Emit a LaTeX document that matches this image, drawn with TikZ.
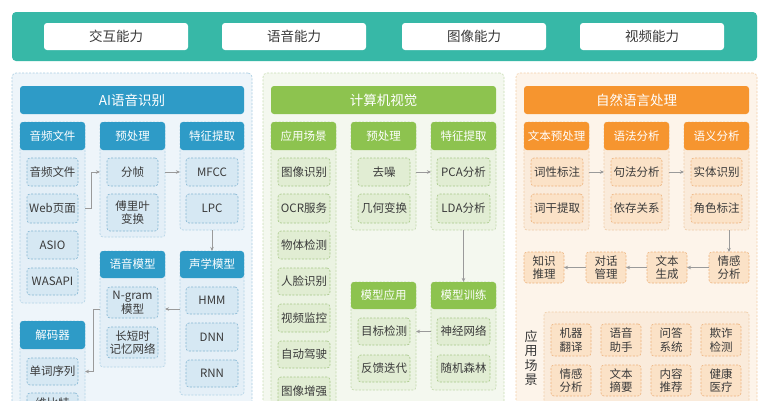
\documentclass[tikz,border=0pt]{standalone}
\usepackage{fontspec}
\setmainfont{Noto Sans CJK SC}
\usetikzlibrary{arrows.meta}
\definecolor{tealbar}{HTML}{37B8A7}
\definecolor{txt}{HTML}{3A3A3A}
\definecolor{bhd}{HTML}{2E9BC7}
\definecolor{bpan}{HTML}{EEF5FA}
\definecolor{bpanb}{HTML}{A9CDE2}
\definecolor{bcol}{HTML}{E4EFF7}
\definecolor{bcolb}{HTML}{B3D3E6}
\definecolor{bit}{HTML}{D6E8F3}
\definecolor{bitb}{HTML}{84B6D2}
\definecolor{ghd}{HTML}{8DC34F}
\definecolor{gpan}{HTML}{F4F8EF}
\definecolor{gpanb}{HTML}{C8DDB3}
\definecolor{gcol}{HTML}{EBF3E2}
\definecolor{gcolb}{HTML}{C3D9AC}
\definecolor{git}{HTML}{E1EDD3}
\definecolor{gitb}{HTML}{A7C888}
\definecolor{ohd}{HTML}{F6952F}
\definecolor{opan}{HTML}{FDF4EA}
\definecolor{opanb}{HTML}{F3CFA8}
\definecolor{ocol}{HTML}{FAEBDB}
\definecolor{ocolb}{HTML}{EFCDA8}
\definecolor{oit}{HTML}{FBE2C7}
\definecolor{oitb}{HTML}{EDB27C}
\definecolor{arrc}{HTML}{9A9A9A}
\newcommand\bx[7]{\node[#1, minimum width={(#5)-(#3)}, minimum height={(#6)-(#4)}] (#2) at ({((#3)+(#5))/2},{((#4)+(#6))/2}) {#7};}
\tikzset{
  base/.style={inner sep=0pt, outer sep=0pt, rounded corners=3pt, align=center},
  smallf/.style={font=\fontsize{11.5}{13.5}\selectfont},
  bigf/.style={font=\fontsize{13.5}{15}\selectfont},
  dsh/.style={dash pattern=on 2pt off 1.5pt, line width=0.6pt},
  topbtn/.style={base, bigf, fill=white, text=txt},
  banner/.style={base, rounded corners=4pt, fill=tealbar},
  panel/.style={base, dsh, rounded corners=4pt},
  mainhd/.style={base, bigf, text=white},
  subhd/.style={base, smallf, text=white},
  colbox/.style={base, dsh},
  item/.style={base, smallf, dsh, text=txt},
  bpanel/.style={panel, fill=bpan, draw=bpanb},
  gpanel/.style={panel, fill=gpan, draw=gpanb},
  opanel/.style={panel, fill=opan, draw=opanb},
  bmain/.style={mainhd, fill=bhd}, gmain/.style={mainhd, fill=ghd}, omain/.style={mainhd, fill=ohd},
  bsub/.style={subhd, fill=bhd}, gsub/.style={subhd, fill=ghd}, osub/.style={subhd, fill=ohd},
  bcolx/.style={colbox, fill=bcol, draw=bcolb},
  gcolx/.style={colbox, fill=gcol, draw=gcolb},
  ocolx/.style={colbox, fill=ocol, draw=ocolb},
  bitem/.style={item, fill=bit, draw=bitb},
  gitem/.style={item, fill=git, draw=gitb},
  oitem/.style={item, fill=oit, draw=oitb},
  arr/.style={draw=arrc, line width=0.7pt, -{Stealth[length=4pt,width=3.5pt]}},
  vlabel/.style={inner sep=0pt, font=\fontsize{13}{14.5}\selectfont, text=txt, align=center}
}
\begin{document}
\begin{tikzpicture}[x=1pt,y=-1pt]
\useasboundingbox (0,0) rectangle (774,400);
\fill[white] (0,0) rectangle (774,400);
\clip (0,0) rectangle (774,400);
% top banner
\bx{banner}{top}{12}{12}{757}{61}{}
\bx{topbtn}{t1}{44}{23}{188}{50}{交互能力}
\bx{topbtn}{t2}{222}{23}{366}{50}{语音能力}
\bx{topbtn}{t3}{402}{23}{546}{50}{图像能力}
\bx{topbtn}{t4}{580}{23}{724}{50}{视频能力}
% ===== panel 1 =====
\bx{bpanel}{P1}{12}{73}{252}{440}{}
\bx{bmain}{H1}{20}{86}{244}{114}{AI语音识别}
\bx{bcolx}{colA}{20}{122}{85}{303}{}
\bx{bsub}{hA}{20}{122}{85}{150}{音频文件}
\bx{bcolx}{colB}{100}{122}{165}{237}{}
\bx{bsub}{hB}{100}{122}{165}{150}{预处理}
\bx{bcolx}{colC}{180}{122}{244}{230}{}
\bx{bsub}{hC}{180}{122}{244}{150}{特征提取}
\bx{bcolx}{colD}{100}{251}{165}{367}{}
\bx{bsub}{hD}{100}{251}{165}{278}{语音模型}
\bx{bcolx}{colE}{180}{251}{244}{395}{}
\bx{bsub}{hE}{180}{251}{244}{278}{声学模型}
\bx{bcolx}{colF}{20}{321}{85}{440}{}
\bx{bsub}{hF}{20}{321}{85}{349}{解码器}
\bx{bitem}{a1}{27}{158}{78}{186}{音频文件}
\bx{bitem}{a2}{27}{194}{78}{223}{Web页面}
\bx{bitem}{a3}{27}{231}{78}{259}{ASIO}
\bx{bitem}{a4}{27}{268}{78}{295}{WASAPI}
\bx{bitem}{b1}{107}{158}{158}{186}{分帧}
\bx{bitem}{b2}{107}{194}{158}{231}{傅里叶\\变换}
\bx{bitem}{c1}{186}{158}{238}{186}{MFCC}
\bx{bitem}{c2}{186}{194}{238}{223}{LPC}
\bx{bitem}{d1}{107}{287}{158}{318}{N-gram\\模型}
\bx{bitem}{d2}{107}{327}{158}{358}{长短时\\记忆网络}
\bx{bitem}{e1}{186}{287}{238}{314}{HMM}
\bx{bitem}{e2}{186}{323}{238}{351}{DNN}
\bx{bitem}{e3}{186}{360}{238}{387}{RNN}
\bx{bitem}{f1}{27}{358}{78}{385}{单词序列}
\bx{bitem}{f2}{27}{393}{78}{414}{维比特}
\draw[arr] (colA.east |- a2) -- ++(6,0) |- (colB.west |- b1);
\draw[arr] (colB.east |- b1) -- (colC.west |- b1);
\draw[arr] (colC.south) -- (hE.north);
\coordinate (yk) at (0,309);
\draw[arr] (colE.west |- yk) -- (colD.east |- yk);
\draw[arr] (colD.west |- yk) -- ++(-7,0) |- (colF.east |- f1);
% ===== panel 2 =====
\bx{gpanel}{P2}{263}{73}{504}{440}{}
\bx{gmain}{H2}{271}{86}{496}{114}{计算机视觉}
\bx{gcolx}{gA}{271}{122}{336}{440}{}
\bx{gsub}{ghA}{271}{122}{336}{150}{应用场景}
\bx{gcolx}{gB}{351}{122}{416}{230}{}
\bx{gsub}{ghB}{351}{122}{416}{150}{预处理}
\bx{gcolx}{gC}{431}{122}{496}{230}{}
\bx{gsub}{ghC}{431}{122}{496}{150}{特征提取}
\bx{gcolx}{gD}{351}{282}{416}{390}{}
\bx{gsub}{ghD}{351}{282}{416}{309}{模型应用}
\bx{gcolx}{gE}{431}{282}{496}{390}{}
\bx{gsub}{ghE}{431}{282}{496}{309}{模型训练}
\bx{gitem}{g1}{278}{158}{330}{186}{图像识别}
\bx{gitem}{g2}{278}{194}{330}{223}{OCR服务}
\bx{gitem}{g3}{278}{231}{330}{259}{物体检测}
\bx{gitem}{g4}{278}{268}{330}{295}{人脸识别}
\bx{gitem}{g5}{278}{304}{330}{332}{视频监控}
\bx{gitem}{g6}{278}{341}{330}{368}{自动驾驶}
\bx{gitem}{g7}{278}{377}{330}{405}{图像增强}
\bx{gitem}{q1}{358}{158}{410}{186}{去噪}
\bx{gitem}{q2}{358}{194}{410}{223}{几何变换}
\bx{gitem}{p1}{437}{158}{490}{186}{PCA分析}
\bx{gitem}{p2}{437}{194}{490}{223}{LDA分析}
\bx{gitem}{m1}{358}{318}{410}{345}{目标检测}
\bx{gitem}{m2}{358}{355}{410}{382}{反馈迭代}
\bx{gitem}{n1}{437}{318}{490}{345}{神经网络}
\bx{gitem}{n2}{437}{355}{490}{382}{随机森林}
\draw[arr] (gB.east |- q1) -- (gC.west |- q1);
\draw[arr] (gC.south) -- (ghE.north);
\draw[arr] (gE.west |- n1) -- (gD.east |- n1);
% ===== panel 3 =====
\bx{opanel}{P3}{516}{73}{757}{440}{}
\bx{omain}{H3}{524}{86}{749}{114}{自然语言处理}
\bx{ocolx}{oA}{524}{122}{589}{230}{}
\bx{osub}{ohA}{524}{122}{589}{150}{文本预处理}
\bx{ocolx}{oB}{604}{122}{669}{230}{}
\bx{osub}{ohB}{604}{122}{669}{150}{语法分析}
\bx{ocolx}{oC}{684}{122}{749}{230}{}
\bx{osub}{ohC}{684}{122}{749}{150}{语义分析}
\bx{oitem}{w1}{531}{158}{583}{186}{词性标注}
\bx{oitem}{w2}{531}{194}{583}{223}{词干提取}
\bx{oitem}{s1}{611}{158}{662}{186}{句法分析}
\bx{oitem}{s2}{611}{194}{662}{223}{依存关系}
\bx{oitem}{y1}{691}{158}{742}{186}{实体识别}
\bx{oitem}{y2}{691}{194}{742}{223}{角色标注}
\draw[arr] (oA.east |- w1) -- (oB.west |- w1);
\draw[arr] (oB.east |- s1) -- (oC.west |- s1);
\bx{oitem}{r1}{524}{252}{564}{283}{知识\\推理}
\bx{oitem}{r2}{586}{252}{626}{283}{对话\\管理}
\bx{oitem}{r3}{647}{252}{687}{283}{文本\\生成}
\bx{oitem}{r4}{709}{252}{749}{283}{情感\\分析}
\draw[arr] (r4.north |- oC.south) -- (r4.north);
\draw[arr] (r4) -- (r3);
\draw[arr] (r3) -- (r2);
\draw[arr] (r2) -- (r1);
\bx{ocolx}{app}{544}{312}{749}{440}{}
\node[vlabel] (applbl) at (531,358) {应\\用\\场\\景};
\bx{oitem}{k1}{551}{324}{591}{356}{机器\\翻译}
\bx{oitem}{k2}{601}{324}{641}{356}{语音\\助手}
\bx{oitem}{k3}{651}{324}{691}{356}{问答\\系统}
\bx{oitem}{k4}{701}{324}{741}{356}{欺诈\\检测}
\bx{oitem}{k5}{551}{365}{591}{396}{情感\\分析}
\bx{oitem}{k6}{601}{365}{641}{396}{文本\\摘要}
\bx{oitem}{k7}{651}{365}{691}{396}{内容\\推荐}
\bx{oitem}{k8}{701}{365}{741}{396}{健康\\医疗}
\end{tikzpicture}
\end{document}
